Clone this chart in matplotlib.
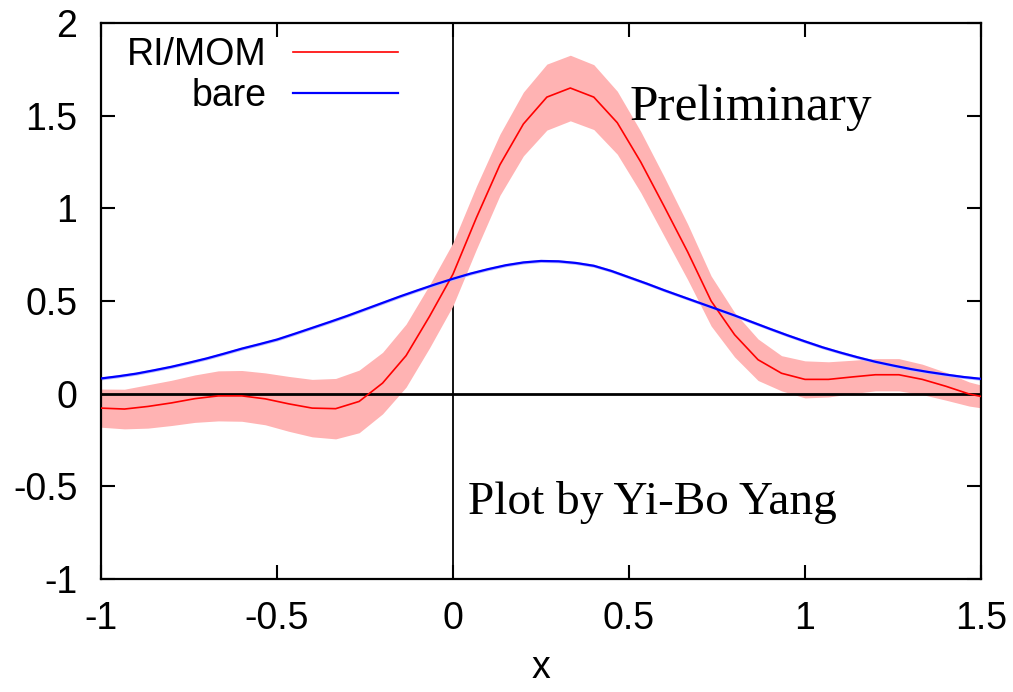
import numpy as np
import matplotlib
matplotlib.use("Agg")
import matplotlib.pyplot as plt

# RI/MOM points sit on a grid of step 1/15 in x
x_rimom = np.arange(-15, 24) / 15.0
y_rimom = [-0.078, -0.083, -0.069, -0.050, -0.027, -0.012, -0.012, -0.028,
           -0.055, -0.078, -0.081, -0.042, 0.057, 0.205, 0.417, 0.645,
           0.950, 1.235, 1.455, 1.600, 1.649, 1.600, 1.462, 1.250,
           1.010, 0.765, 0.500, 0.318, 0.183, 0.110, 0.077, 0.077,
           0.090, 0.102, 0.102, 0.077, 0.040, -0.002, -0.028]
err_rimom = [0.103, 0.107, 0.117, 0.122, 0.128, 0.135, 0.137, 0.140,
             0.148, 0.155, 0.163, 0.169, 0.166, 0.170, 0.170, 0.170,
             0.170, 0.165, 0.172, 0.178, 0.177, 0.175, 0.170, 0.165,
             0.160, 0.150, 0.135, 0.120, 0.112, 0.095, 0.100, 0.095,
             0.090, 0.087, 0.087, 0.082, 0.075, 0.065, 0.058]

x_bare = [-1.0, -0.95, -0.9, -0.85, -0.8, -0.75, -0.7, -0.65, -0.6, -0.55,
          -0.5, -0.45, -0.4, -0.35, -0.3, -0.25, -0.2, -0.15, -0.1, -0.05,
          0.0, 0.05, 0.1, 0.15, 0.2, 0.25, 0.3, 0.35, 0.4, 0.45, 0.5, 0.55,
          0.6, 0.65, 0.7, 0.75, 0.8, 0.85, 0.9, 0.95, 1.0, 1.05, 1.1, 1.15,
          1.2, 1.25, 1.3, 1.35, 1.4, 1.45, 1.5]
y_bare = [0.082, 0.094, 0.108, 0.126, 0.145, 0.167, 0.190, 0.216, 0.243,
          0.267, 0.292, 0.323, 0.355, 0.387, 0.420, 0.455, 0.490, 0.525,
          0.558, 0.590, 0.620, 0.648, 0.672, 0.693, 0.708, 0.716, 0.714,
          0.705, 0.690, 0.662, 0.628, 0.594, 0.558, 0.524, 0.490, 0.456,
          0.422, 0.386, 0.350, 0.315, 0.282, 0.250, 0.222, 0.196, 0.172,
          0.152, 0.133, 0.117, 0.103, 0.090, 0.080]
err_bare = 0.008

y_rimom = np.array(y_rimom)
err_rimom = np.array(err_rimom)
y_bare = np.array(y_bare)

plt.rcParams['font.family'] = ['Liberation Sans', 'DejaVu Sans']

fig = plt.figure(figsize=(10.13, 6.92), dpi=100)
ax = fig.add_axes([0.0997, 0.1633, 0.8687, 0.8035])

ax.axvline(0, color='black', lw=1.3, zorder=1)
ax.fill_between(x_rimom, y_rimom - err_rimom, y_rimom + err_rimom,
                color='#ffb3b3', lw=0, zorder=2)
ax.fill_between(x_bare, y_bare - err_bare, y_bare + err_bare,
                color='#b8b8ff', lw=0, zorder=2)
ax.axhline(0, color='black', lw=2.0, zorder=3)
ax.plot(x_rimom, y_rimom, color='#ff0000', lw=1.2, label='RI/MOM', zorder=4)
ax.plot(x_bare, y_bare, color='#0000ff', lw=1.6, label='bare', zorder=4)

ax.set_xlim(-1, 1.5)
ax.set_ylim(-1, 2)
ax.set_xticks([-1, -0.5, 0, 0.5, 1, 1.5])
ax.set_xticklabels(['-1', '-0.5', '0', '0.5', '1', '1.5'])
ax.set_yticks([-1, -0.5, 0, 0.5, 1, 1.5, 2])
ax.set_yticklabels(['-1', '-0.5', '0', '0.5', '1', '1.5', '2'])
ax.tick_params(direction='in', length=10, width=1.5, labelsize=27,
               top=True, right=True)
ax.tick_params(axis='y', pad=17)
ax.tick_params(axis='x', pad=16)
for s in ax.spines.values():
    s.set_linewidth(1.6)
ax.set_xlabel('x', fontsize=27, labelpad=9)

leg = ax.legend(loc='upper right', bbox_to_anchor=(0.3375, 0.975),
                frameon=False, markerfirst=False, alignment='right',
                fontsize=27, handlelength=2.8, handletextpad=0.7,
                labelspacing=0.13, borderpad=0, borderaxespad=0)

ax.text(0.502, 1.478, 'Preliminary', family='Liberation Serif',
        fontsize=37, va='baseline', ha='left')
ax.text(0.043, -0.648, 'Plot by Yi-Bo Yang', family='Liberation Serif',
        fontsize=34, va='baseline', ha='left')

fig.savefig('out.png', dpi=100)
